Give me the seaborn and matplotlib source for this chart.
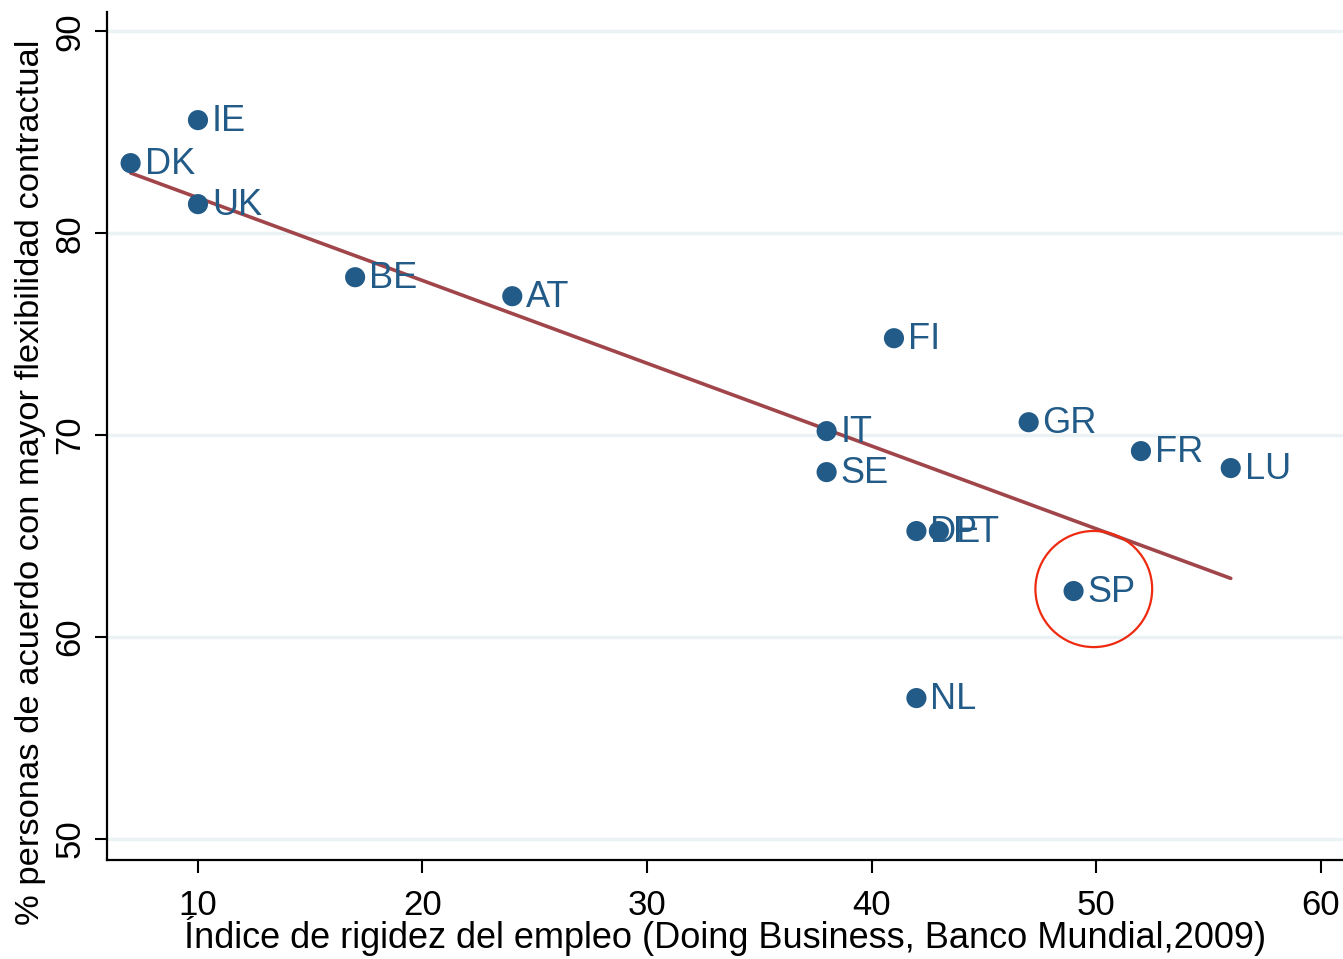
import matplotlib
matplotlib.use("Agg")
import matplotlib.pyplot as plt
from matplotlib.patches import Ellipse
import seaborn as sns
import pandas as pd

# Country codes, employment rigidity index and share agreeing with more contract flexibility
countries = ["IE", "DK", "UK", "BE", "AT", "FI", "IT", "SE", "GR", "FR", "LU", "DE", "PT", "SP", "NL"]
rigidity = [10, 7, 10, 17, 24, 41, 38, 38, 47, 52, 56, 42, 43, 49, 42]
agreement = [85.6, 83.47, 81.44, 77.82, 76.88, 74.8, 70.2, 68.17, 70.64, 69.21, 68.37, 65.25, 65.25, 62.28, 56.98]

x_ticks = [10, 20, 30, 40, 50, 60]
y_ticks = [50, 60, 70, 80, 90]
x_label = "Índice de rigidez del empleo (Doing Business, Banco Mundial,2009)"
y_label = "% personas de acuerdo con mayor flexibilidad contractual"
highlight = "SP"

df = pd.DataFrame({"country": countries, "rigidity": rigidity, "agreement": agreement})

sns.set_style("white")
plt.rcParams["font.family"] = ["Liberation Sans", "DejaVu Sans"]
plt.rcParams["text.color"] = "black"
plt.rcParams["axes.labelcolor"] = "black"
plt.rcParams["xtick.color"] = "black"
plt.rcParams["ytick.color"] = "black"

NAVY = "#225b87"
MAROON = "#a0464b"
GRID = "#eaf2f3"

fig = plt.figure(figsize=(13.43, 9.59), dpi=100)
ax = fig.add_axes([0.0797, 0.1032, 0.9203, 0.884])

ax.set_xlim(5.95, 61.0)
ax.set_ylim(48.96, 90.94)

for yv in y_ticks:
    ax.axhline(yv, color=GRID, lw=2.5, zorder=0)

sns.regplot(data=df, x="rigidity", y="agreement", scatter=False, ci=None,
            truncate=True, color=MAROON, line_kws={"lw": 2.6, "zorder": 2}, ax=ax)

sns.scatterplot(data=df, x="rigidity", y="agreement", s=210, color=NAVY,
                edgecolor="none", linewidth=0, zorder=3, ax=ax, legend=False)

for c, xv, yv in zip(countries, rigidity, agreement):
    ax.annotate(c, (xv, yv), xytext=(10, -1), textcoords="offset points",
                ha="left", va="center", fontsize=26, color=NAVY, zorder=4)

# Highlight circle around Spain
sp = df[df["country"] == highlight].iloc[0]
ax.add_patch(Ellipse((sp["rigidity"] + 0.9, sp["agreement"] + 0.1), width=5.2, height=5.75,
                     fill=False, edgecolor="#ee2a10", lw=1.6, zorder=5))

ax.set_xticks(x_ticks)
ax.set_yticks(y_ticks)
ax.tick_params(axis="both", bottom=True, left=True, direction="out", length=9,
               width=1.5, color="black", labelcolor="black", labelsize=25)
ax.tick_params(axis="x", pad=12)
ax.tick_params(axis="y", pad=6)
for lbl in ax.get_yticklabels():
    lbl.set_rotation(90)
    lbl.set_va("center")

for side in ["top", "right"]:
    ax.spines[side].set_visible(False)
for side in ["left", "bottom"]:
    ax.spines[side].set_linewidth(1.6)
    ax.spines[side].set_color("black")

ax.set_xlabel(x_label, fontsize=26, color="black")
ax.set_ylabel(y_label, fontsize=24.8, color="black")
ax.xaxis.set_label_coords(0.5, -0.066)
ax.yaxis.set_label_coords(-0.049, 0.446)

fig.savefig("out.png", dpi=100, facecolor="white")
